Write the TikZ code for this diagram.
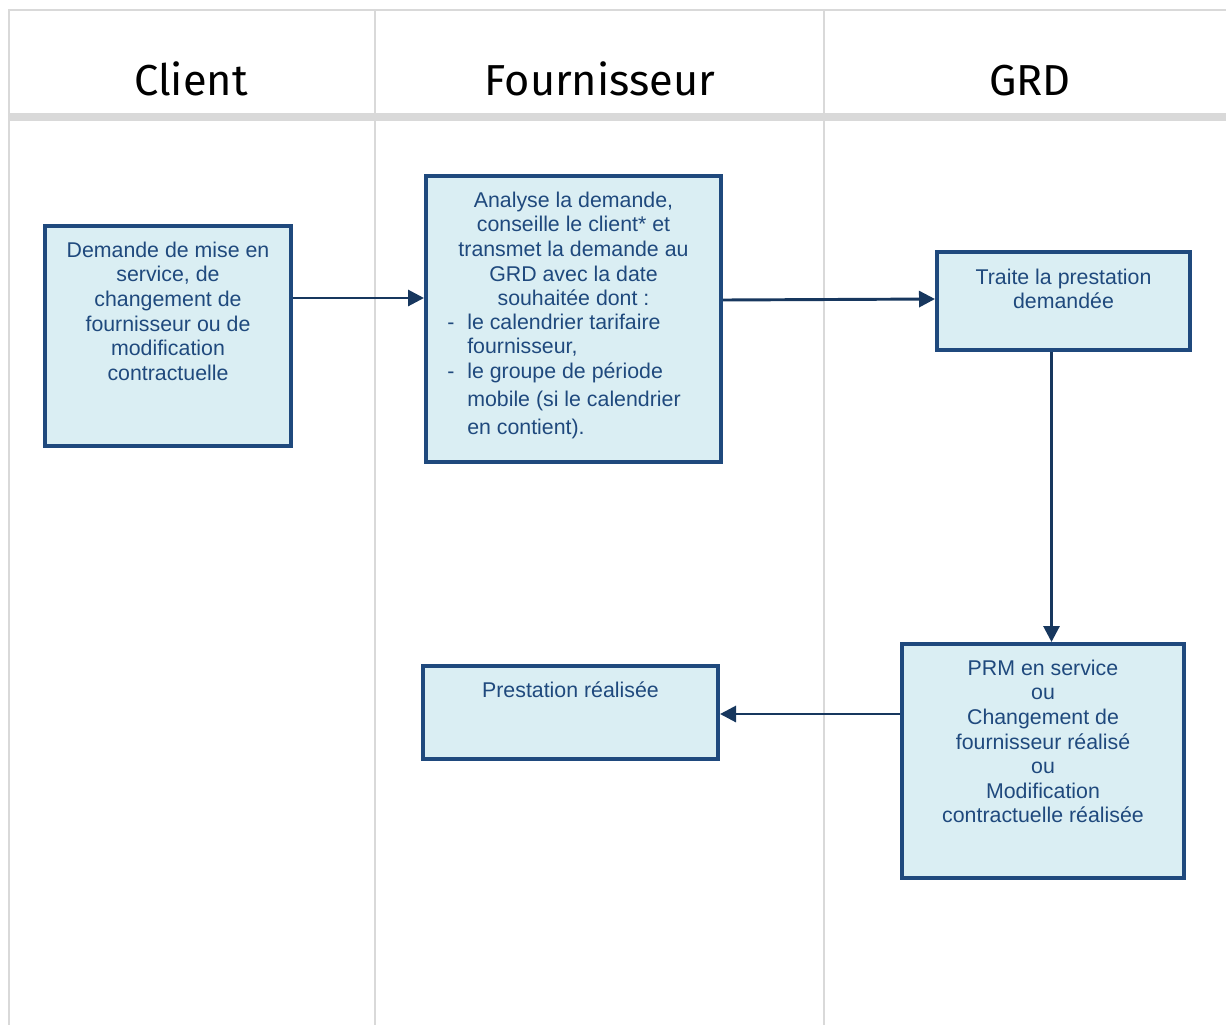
\documentclass[tikz,border=0pt]{standalone}
\usepackage{fontspec}
\setmainfont{Liberation Sans}
\newfontfamily\headfont{Fira Sans}
\usetikzlibrary{arrows.meta,calc}
\definecolor{gridc}{RGB}{217,217,217}
\definecolor{boxfill}{RGB}{218,238,243}
\definecolor{boxline}{RGB}{31,73,125}
\definecolor{txtc}{RGB}{31,73,125}
\definecolor{arrc}{RGB}{23,55,94}
\newcommand\boxfs{\fontsize{16}{18.4}\selectfont}
\tikzset{
  gridline/.style={draw=gridc,line width=2.2pt},
  headsep/.style={draw=gridc,line width=6pt},
  head/.style={font=\headfont\fontsize{32.5}{36}\selectfont,anchor=base,inner sep=0pt,text=black},
  flowbox/.style={draw=boxline,fill=boxfill,line width=3pt,inner sep=0pt},
  boxtext/.style={font=\boxfs,text=txtc,align=center,inner sep=0pt,anchor=north},
  listtext/.style={font=\boxfs,text=txtc,align=left,inner sep=0pt,anchor=north west},
  flowarrow/.style={draw=arrc,line width=2.2pt,-{Triangle[length=12pt,width=12pt]}}
}
\begin{document}
\begin{tikzpicture}[x=0.75pt,y=-0.75pt]
\useasboundingbox (0,0) rectangle (1226,1025);
% grid
\draw[gridline] (8,10) -- (1226,10);
\draw[gridline] (9,10) -- (9,1025);
\draw[gridline] (375,10) -- (375,1025);
\draw[gridline] (824,10) -- (824,1025);
\draw[headsep] (8,117) -- (1226,117);
% headers
\node[head] (hclient) at (191,95) {Client};
\node[head] (hfourn) at (600,95) {Fournisseur};
\node[head] (hgrd) at (1030,95) {GRD};
% boxes
\node[flowbox,minimum width=246*0.75pt,minimum height=220*0.75pt] (b1) at (168,336) {};
\node[flowbox,minimum width=295*0.75pt,minimum height=286*0.75pt] (b2) at (573.5,319) {};
\node[flowbox,minimum width=253*0.75pt,minimum height=98*0.75pt] (b3) at (1063.5,301) {};
\node[flowbox,minimum width=282*0.75pt,minimum height=234*0.75pt] (b4) at (1043,761) {};
\node[flowbox,minimum width=295*0.75pt,minimum height=93*0.75pt] (b5) at (570.5,712.5) {};
% texts
\node[boxtext] (t1) at (168,240) {\strut Demande de mise en\\service, de\\changement de\\fournisseur ou de\\modification\\contractuelle};
\node[boxtext] (t2) at (573.5,190) {\strut Analyse la demande,\\conseille le client* et\\transmet la demande au\\GRD avec la date\\souhaitée dont :};
\node[listtext] (t2l) at (447,312) {\strut\makebox[15pt][l]{-}le calendrier tarifaire\\\hspace*{15pt}fournisseur,\\\makebox[15pt][l]{-}le groupe de période\\[2.6pt]\hspace*{15pt}mobile (si le calendrier\\[2.6pt]\hspace*{15pt}en contient).};
\node[boxtext] (t3) at (1063.5,267) {\strut Traite la prestation\\demandée};
\node[boxtext] (t4) at (1043,658) {\strut PRM en service\\ou\\Changement de\\fournisseur réalisé\\ou\\Modification\\contractuelle réalisée};
\node[boxtext] (t5) at (570.5,680) {\strut Prestation réalisée};
% arrows
\draw[flowarrow] ($(b1.east)+(0,-38)$) -- ($(b2.west)+(0,-21)$);
\draw[flowarrow] ($(b2.east)+(0,-19)$) -- ($(b3.west)+(0,-2)$);
\coordinate (a3s) at ($(b3.south)+(-12,0)$);
\draw[flowarrow] (a3s) -- (a3s |- b4.north);
\draw[flowarrow] ($(b4.west)+(0,-47)$) -- (b5.east |- {$(b4.west)+(0,-47)$});
\end{tikzpicture}
\end{document}
